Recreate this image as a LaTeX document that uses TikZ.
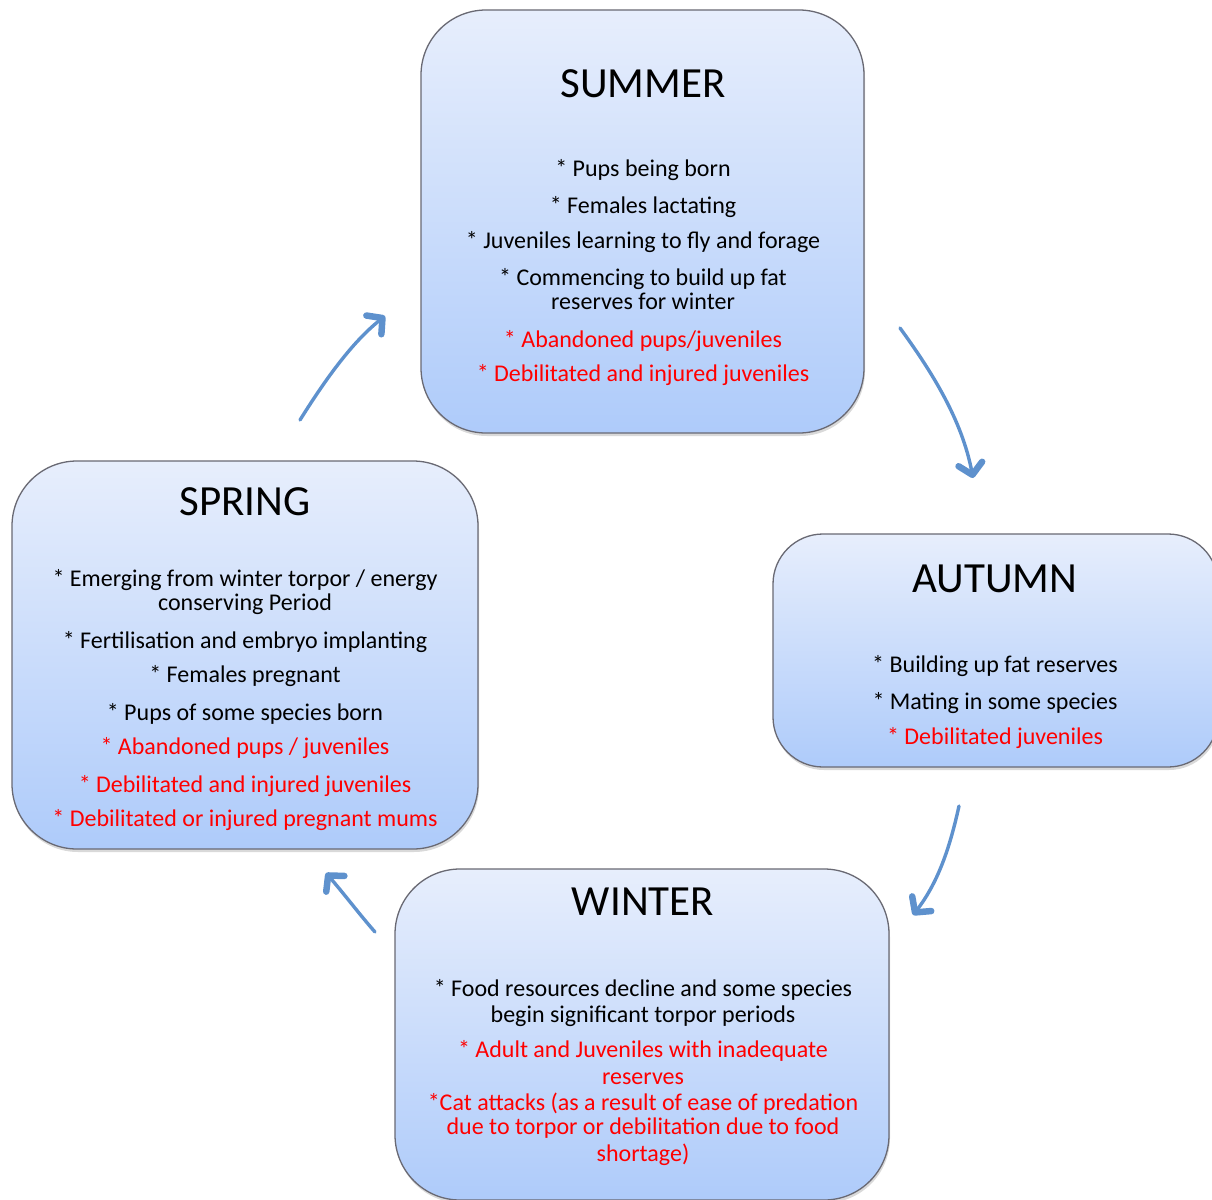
\documentclass[tikz,border=0pt]{standalone}
\usepackage{fontspec}
\setmainfont{Carlito}
\usepackage{xcolor}
\usetikzlibrary{arrows.meta,shadows}

\definecolor{boxtop}{RGB}{231,238,252}
\definecolor{boxbottom}{RGB}{174,203,250}
\definecolor{boxline}{RGB}{105,105,115}
\definecolor{arrowblue}{RGB}{94,145,205}
\definecolor{hazard}{RGB}{255,0,0}

\begin{document}
\begin{tikzpicture}[x=1pt,y=-1pt]
	\tikzstyle{every node}=[font=\fontsize{24}{24}\selectfont, inner sep=0pt, anchor=base];
	\tikzstyle{season}=[draw=boxline, line width=1.3pt, rounded corners=65pt, top color=boxtop, bottom color=boxbottom, anchor=center, drop shadow={shadow xshift=1pt, shadow yshift=-3pt, opacity=0.3}];
	\tikzstyle{title}=[font=\fontsize{43}{43}\selectfont];
	\tikzstyle{risk}=[text=hazard];
	\tikzstyle{cycle}=[draw=arrowblue, line width=3.4pt, line cap=round, -{Straight Barb[round, length=11pt, width=24pt, line width=6.5pt]}];

	\useasboundingbox (0,0) rectangle (1212,1199);

	%Boxes
	\node[season, minimum width=443pt, minimum height=423pt] (summer) at (642.5,221.5) {};
	\node[season, rounded corners=50pt, minimum width=445pt, minimum height=233pt] (autumn) at (995.5,650.5) {};
	\node[season, minimum width=466pt, minimum height=388pt] (spring) at (245,655) {};
	\node[season, minimum width=494pt, minimum height=331pt] (winter) at (642,1034.5) {};

	%Summer
	\node[title] (summertitle) at (643,97) {SUMMER};
	\node (su1) at (643,176) {* Pups being born};
	\node (su2) at (643,213) {* Females lactating};
	\node (su3) at (643,248) {* Juveniles learning to fly and forage};
	\node (su4) at (643,285) {* Commencing to build up fat};
	\node (su5) at (643,309) {reserves for winter};
	\node[risk] (su6) at (643,347) {* Abandoned pups/juveniles};
	\node[risk] (su7) at (643,381) {* Debilitated and injured juveniles};

	%Autumn
	\node[title] (autumntitle) at (995,592) {AUTUMN};
	\node (au1) at (995,672) {* Building up fat reserves};
	\node (au2) at (995,709) {* Mating in some species};
	\node[risk] (au3) at (995,744) {* Debilitated juveniles};

	%Spring
	\node[title] (springtitle) at (245,515) {SPRING};
	\node (sp1) at (245,586) {* Emerging from winter torpor / energy};
	\node (sp2) at (245,610) {conserving Period};
	\node (sp3) at (245,648) {* Fertilisation and embryo implanting};
	\node (sp4) at (245,682) {* Females pregnant};
	\node (sp5) at (245,720) {* Pups of some species born};
	\node[risk] (sp6) at (245,754) {* Abandoned pups / juveniles};
	\node[risk] (sp7) at (245,792) {* Debilitated and injured juveniles};
	\node[risk] (sp8) at (245,826) {* Debilitated or injured pregnant mums};

	%Winter
	\node[title] (wintertitle) at (643,915) {WINTER};
	\node (wi1) at (643,996) {* Food resources decline and some species};
	\node (wi2) at (643,1022) {begin significant torpor periods};
	\node[risk] (wi3) at (643,1057) {* Adult and Juveniles with inadequate};
	\node[risk] (wi4) at (643,1084) {reserves};
	\node[risk] (wi5) at (643,1110) {*Cat attacks (as a result of ease of predation};
	\node[risk] (wi6) at (643,1134) {due to torpor or debilitation due to food};
	\node[risk] (wi7) at (643,1161) {shortage)};

	%Arrow ends
	\coordinate (springout) at (300,420);
	\coordinate (summerin) at (385,316);
	\coordinate (summerout) at (900,328);
	\coordinate (autumnin) at (973,478);
	\coordinate (autumnout) at (959,806);
	\coordinate (winterin) at (913,915);
	\coordinate (winterout) at (375,932);
	\coordinate (springin) at (326,873);

	%Arrows
	\draw[cycle] (springout) .. controls (330,372) and (355,340) .. (summerin);
	\draw[cycle] (summerout) .. controls (932,372) and (962,420) .. (autumnin);
	\draw[cycle] (autumnout) .. controls (951,842) and (940,880) .. (winterin);
	\draw[cycle] (winterout) .. controls (360,915) and (345,895) .. (springin);

\end{tikzpicture}
\end{document}
